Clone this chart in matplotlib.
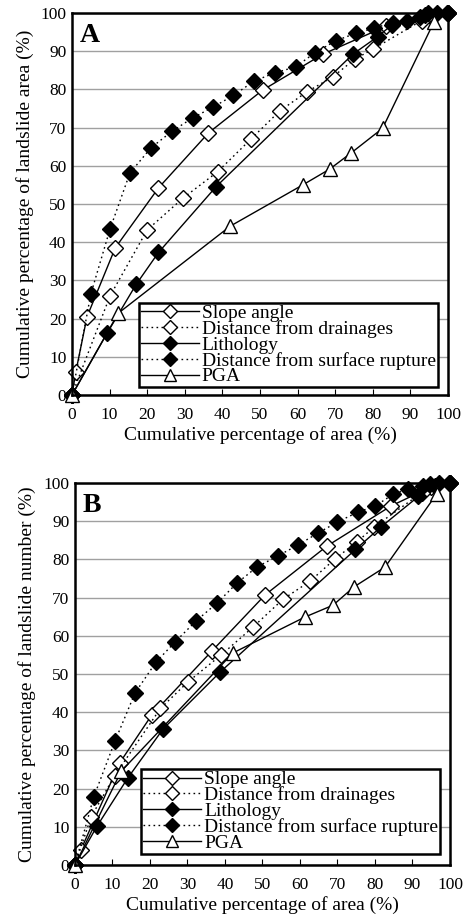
import matplotlib
matplotlib.use("Agg")
import matplotlib.pyplot as plt

plt.rcParams['font.family'] = ['Liberation Serif', 'DejaVu Serif']

series_names = ["Slope angle", "Distance from drainages", "Lithology",
                "Distance from surface rupture", "PGA"]

# Panel A: cumulative percentage of landslide area
a_slope_x = [0, 1, 4, 11.5, 23, 36.3, 50.7, 66.7, 83.5, 95, 100]
a_slope_y = [0, 6, 20.5, 38.5, 54.2, 68.6, 79.8, 89.2, 96.5, 99.5, 100]
a_drain_x = [0, 10.1, 20, 29.6, 38.7, 47.5, 55.2, 62.4, 69.4, 75.2, 80, 93, 100]
a_drain_y = [0, 25.9, 43.2, 51.6, 58.4, 66.9, 74.3, 79.3, 83.3, 87.9, 90.5, 98, 100]
a_lith_x = [0, 9.4, 17.1, 23, 38.3, 74.7, 81.3, 85, 94, 100]
a_lith_y = [0, 16.3, 29, 37.3, 54.5, 89.2, 93.8, 96.8, 99.5, 100]
a_rupt_x = [0, 5, 10.1, 15.4, 21, 26.7, 32.2, 37.6, 42.9, 48.5, 53.9, 59.5,
            64.5, 70.1, 75.5, 80.3, 85.3, 89, 92.5, 94.7, 97, 99.7]
a_rupt_y = [0, 26.4, 43.4, 58.1, 64.7, 69.1, 72.6, 75.4, 78.4, 82.2, 84.3, 85.9,
            89.5, 92.7, 94.7, 96, 97.5, 98, 99, 100, 100, 100]
a_pga_x = [0, 12.3, 42.1, 61.4, 68.5, 74.3, 82.6, 96.3]
a_pga_y = [0, 21.4, 44.2, 55, 59.1, 63.4, 69.8, 97.7]

# Panel B: cumulative percentage of landslide number
b_slope_x = [0, 1.5, 11.9, 20.5, 36.5, 50.7, 67.2, 84.3, 95, 100]
b_slope_y = [0, 3.8, 26.7, 39.3, 56, 70.7, 83.5, 94, 99, 100]
b_drain_x = [0, 4.3, 10.6, 22.8, 30.1, 39, 47.5, 55.5, 62.7, 69.3, 75.2, 79.8, 92.5, 100]
b_drain_y = [0, 12.6, 23.4, 41, 47.9, 55, 62.3, 69.6, 74.3, 80.1, 84.6, 88.5, 97.5, 100]
b_lith_x = [0, 5.9, 14.1, 23.5, 38.7, 74.8, 81.6, 91.6, 96, 100]
b_lith_y = [0, 10.2, 22.8, 35.6, 50.5, 82.6, 88.5, 96.5, 99.3, 100]
b_rupt_x = [0, 5, 10.7, 16, 21.6, 26.7, 32.3, 37.9, 43.2, 48.5, 54.1, 59.5,
            64.8, 70, 75.5, 80.1, 84.9, 88.9, 92.8, 94.8, 97, 99.7]
b_rupt_y = [0, 17.8, 32.5, 45, 53.1, 58.4, 63.9, 68.6, 73.8, 78, 80.9, 83.8,
            86.9, 89.8, 92.4, 94, 97.1, 98.4, 99.3, 99.8, 100, 100]
b_pga_x = [0, 12.3, 42.1, 61.3, 68.8, 74.4, 82.7, 96.5]
b_pga_y = [0, 24.5, 55.5, 64.9, 68, 72.8, 78, 97.2]

x_ticks = list(range(0, 101, 10))
y_ticks = list(range(0, 101, 10))

styles = [
    dict(linestyle='-', marker='D', mfc='white', mec='black'),
    dict(linestyle=(0, (1.2, 2.4)), marker='D', mfc='white', mec='black'),
    dict(linestyle='-', marker='D', mfc='black', mec='black'),
    dict(linestyle=(0, (1.2, 2.4)), marker='D', mfc='black', mec='black'),
    dict(linestyle='-', marker='^', mfc='white', mec='black'),
]

fig = plt.figure(figsize=(4.74, 9.19), dpi=100)
axA = fig.add_axes([0.1519, 0.5702, 0.7932, 0.4157])
axB = fig.add_axes([0.1582, 0.0588, 0.7911, 0.4156])

panels = [
    (axA, "A", "Cumulative percentage of landslide area (%)", 0.02,
     [(a_slope_x, a_slope_y), (a_drain_x, a_drain_y), (a_lith_x, a_lith_y),
      (a_rupt_x, a_rupt_y), (a_pga_x, a_pga_y)]),
    (axB, "B", "Cumulative percentage of landslide number (%)", 0.03,
     [(b_slope_x, b_slope_y), (b_drain_x, b_drain_y), (b_lith_x, b_lith_y),
      (b_rupt_x, b_rupt_y), (b_pga_x, b_pga_y)]),
]

for ax, letter, ylab, legy, data in panels:
    ax.set_xlim(0, 100)
    ax.set_ylim(0, 100)
    ax.set_xticks(x_ticks)
    ax.set_yticks(y_ticks)
    ax.yaxis.grid(True, color='#a0a0a0', linewidth=1.0)
    ax.set_axisbelow(True)
    for s in ax.spines.values():
        s.set_linewidth(1.8)
        s.set_color('black')
    ax.tick_params(axis='x', direction='in', length=4, width=0.8,
                   labelsize=12.5, pad=9)
    ax.tick_params(axis='y', direction='in', length=0, labelsize=12.5, pad=4)
    handles = []
    for name, (xs, ys), st in zip(series_names, data, styles):
        ms = 8 if st['marker'] == 'D' else 10
        h, = ax.plot(xs, ys, color='black', linewidth=1.0, markersize=ms,
                     markeredgewidth=1.0, clip_on=False, label=name, **st)
        handles.append(h)
    ax.set_xlabel("Cumulative percentage of area (%)", fontsize=14, labelpad=2)
    ax.set_ylabel(ylab, fontsize=14, labelpad=5)
    ax.text(0.02, 0.975, letter, transform=ax.transAxes, fontsize=20,
            fontweight='bold', va='top', ha='left')
    leg = ax.legend(handles=handles, loc='lower right',
                    bbox_to_anchor=(0.973, legy), fontsize=14,
                    frameon=True, fancybox=False, framealpha=1,
                    edgecolor='black', handlelength=3.0, handletextpad=0.15,
                    labelspacing=-0.1, borderpad=0.1, borderaxespad=0.0,
                    markerscale=0.9)
    leg.get_frame().set_linewidth(1.8)

fig.savefig("out.png", dpi=100)
